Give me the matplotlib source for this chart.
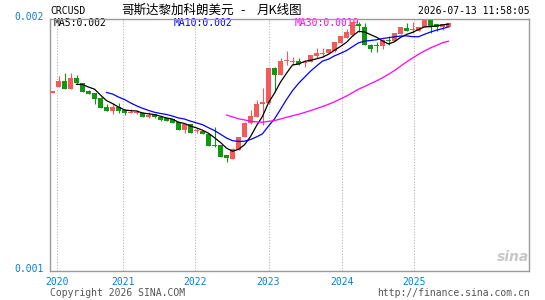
import numpy as np
import pandas as pd
import matplotlib
matplotlib.use("Agg")
import matplotlib.pyplot as plt
from matplotlib.transforms import ScaledTranslation

# ---------------- data (monthly K-line, CRC/USD) ----------------
months = pd.period_range("2020-01", "2025-07", freq="M").astype(str).tolist()

opens = [0.0017052, 0.0017314, 0.0017540, 0.0017234, 0.0017647, 0.0017448, 0.0017143, 0.0017075,
         0.0016877, 0.0016520, 0.0016361, 0.0016508, 0.0016389, 0.0016270, 0.0016258, 0.0016258,
         0.0016123, 0.0016218, 0.0016123, 0.0016083, 0.0016020, 0.0015913, 0.0015595, 0.0015833,
         0.0015544, 0.0015556, 0.0015437, 0.0015000, 0.0015000, 0.0014603, 0.0014444, 0.0014802,
         0.0015329, 0.0015861, 0.0016123, 0.0016627, 0.0016655, 0.0018044, 0.0017778, 0.0018314,
         0.0018306, 0.0018345, 0.0018242, 0.0018306, 0.0018532, 0.0018623, 0.0018663, 0.0018730,
         0.0019036, 0.0019258, 0.0019365, 0.0019782, 0.0019694, 0.0018968, 0.0018988, 0.0018929,
         0.0019167, 0.0019139, 0.0019405, 0.0019643, 0.0019544, 0.0019536, 0.0019671, 0.0019960,
         0.0019790, 0.0019694, 0.0019694]

highs = [0.0017143, 0.0017738, 0.0017845, 0.0017845, 0.0017778, 0.0017460, 0.0017163, 0.0017083,
         0.0016885, 0.0016615, 0.0016655, 0.0016655, 0.0016401, 0.0016441, 0.0016389, 0.0016321,
         0.0016298, 0.0016230, 0.0016131, 0.0016091, 0.0016032, 0.0015925, 0.0015845, 0.0015845,
         0.0015663, 0.0015575, 0.0015456, 0.0015702, 0.0015012, 0.0014615, 0.0014893, 0.0015337,
         0.0015913, 0.0016389, 0.0016786, 0.0017262, 0.0018068, 0.0018095, 0.0018452, 0.0018730,
         0.0018504, 0.0018464, 0.0018373, 0.0018591, 0.0018837, 0.0018837, 0.0018810, 0.0019107,
         0.0019345, 0.0019603, 0.0019901, 0.0019893, 0.0019829, 0.0019008, 0.0019099, 0.0019206,
         0.0019325, 0.0019444, 0.0019694, 0.0019853, 0.0019893, 0.0019702, 0.0019980, 0.0019980,
         0.0019802, 0.0019802, 0.0019841]

lows = [0.0017044, 0.0017302, 0.0017222, 0.0017222, 0.0017409, 0.0017103, 0.0017024, 0.0016615,
        0.0016456, 0.0016349, 0.0016218, 0.0016258, 0.0016190, 0.0016258, 0.0016250, 0.0016111,
        0.0016083, 0.0016091, 0.0015952, 0.0015952, 0.0015873, 0.0015583, 0.0015488, 0.0015476,
        0.0015464, 0.0015417, 0.0014960, 0.0014933, 0.0014524, 0.0014314, 0.0014425, 0.0014782,
        0.0015318, 0.0015853, 0.0016111, 0.0015794, 0.0016627, 0.0017091, 0.0017758, 0.0018175,
        0.0018175, 0.0018175, 0.0018107, 0.0018294, 0.0018441, 0.0018504, 0.0018651, 0.0018710,
        0.0019028, 0.0019246, 0.0019345, 0.0019496, 0.0018968, 0.0018691, 0.0018679, 0.0018798,
        0.0018968, 0.0019127, 0.0019385, 0.0019524, 0.0019433, 0.0019524, 0.0019663, 0.0019456,
        0.0019536, 0.0019564, 0.0019683]

closes = [0.0017131, 0.0017552, 0.0017234, 0.0017659, 0.0017448, 0.0017115, 0.0017036, 0.0016825,
          0.0016480, 0.0016361, 0.0016520, 0.0016349, 0.0016258, 0.0016321, 0.0016298, 0.0016123,
          0.0016190, 0.0016099, 0.0015992, 0.0015964, 0.0015885, 0.0015595, 0.0015833, 0.0015488,
          0.0015595, 0.0015437, 0.0014972, 0.0014960, 0.0014536, 0.0014472, 0.0014829, 0.0015329,
          0.0015885, 0.0016151, 0.0016627, 0.0016687, 0.0018044, 0.0017778, 0.0018345, 0.0018373,
          0.0018345, 0.0018214, 0.0018306, 0.0018571, 0.0018663, 0.0018663, 0.0018798, 0.0019099,
          0.0019337, 0.0019472, 0.0019893, 0.0019742, 0.0018988, 0.0018810, 0.0018948, 0.0019167,
          0.0019127, 0.0019433, 0.0019671, 0.0019536, 0.0019575, 0.0019694, 0.0019960, 0.0019722,
          0.0019671, 0.0019790, 0.0019829]

year_labels = ["2020", "2021", "2022", "2023", "2024", "2025"]
year_positions = [0.7, 11.7, 23.8, 36.0, 48.2, 60.2]
y_ticks = [0.001, 0.002]
y_tick_labels = ["0.001", "0.002"]

title_parts = ["哥斯达黎加科朗美元", "-", "月K线图"]
symbol = "CRCUSD"
timestamp = "2026-07-13 11:58:05"
ma_texts = ["MA5:0.002", "MA10:0.002", "MA30:0.0019"]

# ---------------- style ----------------
RED = "#f55a5a"
GREEN = "#0f990f"
BLUE_LBL = "#0a7fd0"
MA_COLORS = ["#000000", "#0000ff", "#ff00ff"]
MONO = "DejaVu Sans Mono"
CJK = ["Noto Sans CJK SC", "DejaVu Sans"]

W, H = 545, 300
fig = plt.figure(figsize=(W / 100, H / 100), dpi=100)
fig.patch.set_facecolor("white")

L, R, T, B = 50, 529.3, 19, 271
ax = fig.add_axes([L / W, 1 - B / H, (R - L) / W, (B - T) / H])

x = np.arange(len(closes))
o = np.array(opens); h = np.array(highs); l = np.array(lows); c = np.array(closes)
cols = [RED if cc >= oo else GREEN for oo, cc in zip(o, c)]

ax.vlines(x, l, h, colors=cols, linewidth=0.8, zorder=3)
body_bottom = np.minimum(o, c)
body_h = np.maximum(np.abs(c - o), 0.000004)
ax.bar(x, body_h, bottom=body_bottom, width=0.8, color=cols, linewidth=0, zorder=4)

s = pd.Series(closes)
for n, col in zip([5, 10, 30], MA_COLORS):
    ma = s.rolling(n).mean()
    ax.plot(x, ma, color=col, linewidth=0.9, zorder=5)

ax.set_xlim((L - 52.5) / 6.0, (R - 52.5) / 6.0)
ax.set_ylim(0.001, 0.002)

ax.set_xticks(year_positions)
ax.set_xticklabels(year_labels)
ax.set_yticks(y_ticks)
ax.set_yticklabels(y_tick_labels)
ax.tick_params(axis="both", length=0, labelsize=7, labelcolor=BLUE_LBL)
ax.tick_params(axis="x", pad=4)
ax.tick_params(axis="y", pad=4.5)
for lab in ax.get_xticklabels() + ax.get_yticklabels():
    lab.set_fontfamily(MONO)
for lab in ax.get_yticklabels():
    lab.set_transform(lab.get_transform() + ScaledTranslation(0, 0.025, fig.dpi_scale_trans))

ax.grid(axis="x", linestyle=(0, (1, 1.5)), color="#b4b4b4", linewidth=0.8, zorder=0)
ax.set_axisbelow(True)
for sp in ax.spines.values():
    sp.set_color("#9a9a9a")
    sp.set_linewidth(1.0)

# MA legend texts (drawn under candles)
for txt, col, px in zip(ma_texts, MA_COLORS, [54, 174, 295]):
    ax.text(px / W, 1 - 23.5 / H, txt, transform=fig.transFigure, color=col,
            fontsize=7, fontfamily=MONO, va="center", ha="left", zorder=2, clip_on=False)

# header texts
fig.text(50 / W, 1 - 11 / H, symbol, fontsize=7, fontfamily=MONO, va="center", ha="left", color="#000000")
for part, px, ha in zip(title_parts, [121, 243, 257], ["left", "center", "left"]):
    fig.text(px / W, 1 - 10.5 / H, part, fontsize=9, family=CJK, va="center", ha=ha, color="#000000")
fig.text(529.5 / W, 1 - 11.5 / H, timestamp, fontsize=7, fontfamily=MONO, va="center", ha="right", color="#000000")

# footer texts
fig.text(50 / W, 1 - 292.5 / H, "Copyright 2026 SINA.COM", fontsize=7, fontfamily=MONO,
         va="center", ha="left", color="#555555")
fig.text(529.5 / W, 1 - 292.5 / H, "http://finance.sina.com.cn", fontsize=7, fontfamily=MONO,
         va="center", ha="right", color="#555555")

# watermark
fig.text(513 / W, 1 - 257 / H, "sina", fontsize=10, fontstyle="italic", fontweight="bold",
         color="#c8c8c8", va="center", ha="center")

fig.savefig("out.png", dpi=100, facecolor="white")
